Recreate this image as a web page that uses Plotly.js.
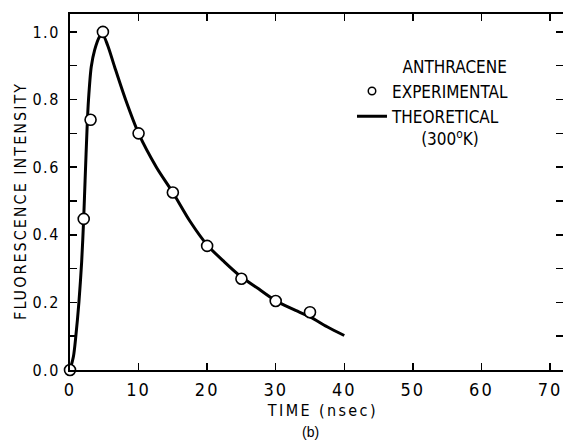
<!DOCTYPE html>
<html>
<head>
<meta charset="utf-8">
<script src="https://cdn.plot.ly/plotly-3.0.1.min.js"></script>
<style>
html,body{margin:0;padding:0;background:#fff;}
#chart .xtick text { letter-spacing: 2px; }
#chart .ytick text { letter-spacing: 1.5px; }
</style>
</head>
<body>
<div id="chart" style="width:563px;height:443px;"></div>
<script>
// Experimental data (open circles)
const expTime = [0, 2, 3, 4.8, 10, 15, 20, 25, 30, 35];
const expIntensity = [0, 0.447, 0.74, 1.0, 0.70, 0.525, 0.367, 0.27, 0.204, 0.171];

// Theoretical curve (300 K)
const theoTime = [0, 0.5, 0.85, 1.3, 1.7, 2.0, 2.2, 2.5, 2.7, 3.1, 3.6, 4.3, 4.7, 5.5, 6.5, 8.1, 10, 12.6, 15, 17.5, 20, 22.5, 25, 27.5, 30, 32.5, 35, 37.5, 40];
const theoIntensity = [0, 0.04, 0.1, 0.2, 0.32, 0.45, 0.56, 0.72, 0.8, 0.897, 0.947, 0.986, 0.995, 0.96, 0.897, 0.80, 0.70, 0.60, 0.525, 0.44, 0.37, 0.32, 0.275, 0.24, 0.205, 0.18, 0.157, 0.128, 0.102];

const xTickVals = [0, 10, 20, 30, 40, 50, 60, 70];
const yTickVals = [0, 0.2, 0.4, 0.6, 0.8, 1.0];
const yTickText = ["0.0", "0.2", "0.4", "0.6", "0.8", "1.0"];

const legendTitle = "ANTHRACENE";
const expName = "EXPERIMENTAL";
const theoName = "THEORETICAL";
const theoNote = "(300<sup>o</sup>K)";

const FONT = "Liberation Sans Narrow, DejaVu Sans Condensed, sans-serif";
const NB = "\u00A0";
const Y_RANGE = [0, 1.053];

const traces = [
  {
    x: theoTime, y: theoIntensity,
    type: "scatter", mode: "lines",
    name: theoName + "<br>" + NB.repeat(6) + theoNote,
    line: {color: "#000", width: 3, shape: "spline", smoothing: 0.8},
    legendrank: 2
  },
  {
    x: expTime, y: expIntensity,
    type: "scatter", mode: "markers",
    name: expName,
    marker: {symbol: "circle", size: 11, color: "#fff", line: {color: "#000", width: 1.6}},
    cliponaxis: false,
    showlegend: false
  },
  {
    // legend key only (smaller circle as in the printed key)
    x: [null], y: [null],
    type: "scatter", mode: "markers",
    name: expName,
    marker: {symbol: "circle", size: 7.5, color: "#fff", line: {color: "#000", width: 1.5}},
    legendrank: 1
  }
];

const tickStyle = {ticks: "inside", ticklen: 7, tickwidth: 1.5, tickcolor: "#000"};

const layout = {
  width: 563, height: 443,
  margin: {l: 70, r: 0, t: 14, b: 73, autoexpand: false},
  paper_bgcolor: "#fff", plot_bgcolor: "#fff",
  font: {family: FONT, size: 16, color: "#000"},
  showlegend: true,
  legend: {
    x: 0.572, y: 0.895, xanchor: "left", yanchor: "top",
    bgcolor: "rgba(0,0,0,0)",
    font: {family: FONT, size: 17, color: "#000"},
    title: {text: NB.repeat(10) + legendTitle, side: "top", font: {family: FONT, size: 17}},
    itemwidth: 30, tracegroupgap: 0, valign: "top"
  },
  xaxis: Object.assign({
    range: [0, 71.9],
    tickvals: xTickVals,
    showline: true, linecolor: "#000", linewidth: 2, mirror: "ticks",
    showgrid: false, zeroline: false,
    tickfont: {family: FONT, size: 18},
    ticklabelstandoff: 2
  }, tickStyle),
  yaxis: Object.assign({
    range: Y_RANGE,
    tickvals: yTickVals, ticktext: yTickText,
    minor: Object.assign({dtick: 0.1, showgrid: false}, tickStyle),
    showline: true, linecolor: "#000", linewidth: 2, mirror: "ticks",
    showgrid: false, zeroline: false,
    tickfont: {family: FONT, size: 16},
    ticklabelstandoff: 5
  }, tickStyle),
  annotations: [
    {text: "FLUORESCENCE INTENSITY", xref: "paper", yref: "paper", x: -0.0994, y: 0.475,
     textangle: -90, showarrow: false, xanchor: "center", yanchor: "middle",
     font: {family: FONT, size: 16}},
    {text: "TIME" + NB + "(nsec)", xref: "paper", yref: "paper", x: 0.513, y: -0.115,
     showarrow: false, xanchor: "center", yanchor: "middle",
     font: {family: FONT, size: 16}},
    {text: "(b)", xref: "paper", yref: "paper", x: 0.487, y: -0.174, showarrow: false,
     font: {family: "Liberation Sans, sans-serif", size: 14}, xanchor: "center", yanchor: "middle"}
  ]
};

Plotly.newPlot("chart", traces, layout, {displayModeBar: false, staticPlot: true}).then(function () {
  const anns = document.querySelectorAll("#chart .annotation-text");
  if (anns[0]) anns[0].style.letterSpacing = "2px";
  if (anns[1]) anns[1].style.letterSpacing = "2.4px";
});
</script>
</body>
</html>
